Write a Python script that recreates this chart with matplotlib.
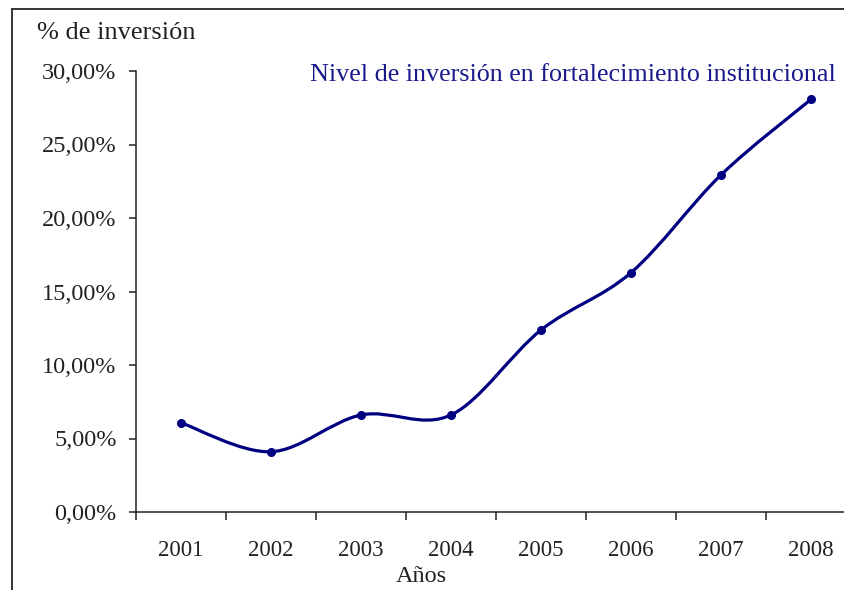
import matplotlib
matplotlib.use("Agg")
import matplotlib.pyplot as plt
from matplotlib.path import Path
from matplotlib.patches import PathPatch, Rectangle
import numpy as np

# investment share per year (%)
years = ['2001', '2002', '2003', '2004', '2005', '2006', '2007', '2008']
inversion = [6.07, 4.10, 6.60, 6.60, 12.38, 16.28, 22.93, 28.07]
y_ticks = [0, 5, 10, 15, 20, 25, 30]

serif = 'Liberation Serif'
navy = '#000080'
ink = '#222222'

W, H = 845, 590
fig = plt.figure(figsize=(W / 100, H / 100), dpi=100)
fig.patch.set_facecolor('white')

# outer frame (only top and left visible)
fig.patches.append(Rectangle((12 / W, -0.1), 1.2, (H - 9) / H + 0.1,
                             transform=fig.transFigure, fill=False,
                             edgecolor='#333333', lw=1.4))

# axes in pixel units
left, right, bottom, top = 136, 856, 512, 71
ax = fig.add_axes([left / W, (H - bottom) / H, (right - left) / W, (bottom - top) / H])
ax.set_facecolor('none')

x = np.arange(len(years))
ax.set_xlim(-0.5, len(years) - 0.5)
ax.set_ylim(0, 30)

# smoothed line through the points (cardinal/Catmull-Rom bezier)
pts = np.column_stack([x, inversion]).astype(float)
verts = [pts[0]]
codes = [Path.MOVETO]
n = len(pts)
for i in range(n - 1):
    p0 = pts[i - 1] if i > 0 else pts[i]
    p1 = pts[i]
    p2 = pts[i + 1]
    p3 = pts[i + 2] if i + 2 < n else pts[i + 1]
    c1 = p1 + (p2 - p0) / 6.0
    c2 = p2 - (p3 - p1) / 6.0
    verts += [c1, c2, p2]
    codes += [Path.CURVE4] * 3
ax.add_patch(PathPatch(Path(verts, codes), fill=False, edgecolor=navy, lw=2.3,
                       capstyle='round', joinstyle='round'))
ax.plot(x, inversion, linestyle='none', marker='o', markersize=5.5, color=navy)

for side in ['top', 'right']:
    ax.spines[side].set_visible(False)
for side in ['left', 'bottom']:
    ax.spines[side].set_color(ink)
    ax.spines[side].set_linewidth(1.1)

ax.set_yticks(y_ticks)
ax.set_yticklabels([f'{v:.2f}%'.replace('.', ',') for v in y_ticks],
                   fontfamily=serif, fontsize=17.5, color=ink)
ax.tick_params(axis='y', direction='out', length=5, width=1.1, pad=9, color=ink)

ax.set_xticks(x)
ax.set_xticklabels(years, fontfamily=serif, fontsize=16.5, color=ink)
ax.set_xticks(np.arange(len(years) + 1) - 0.5, minor=True)
ax.tick_params(axis='x', which='major', length=0, pad=20)
ax.tick_params(axis='x', which='minor', direction='out', length=6, width=1.1, color=ink)

fig.text(37 / W, 1 - 33 / H, '% de inversión', fontfamily=serif, fontsize=19,
         color=ink, ha='left', va='center')
fig.text(421 / W, 1 - 577 / H, 'Años', fontfamily=serif, fontsize=17.5,
         color=ink, ha='center', va='center')
fig.text(836 / W, 1 - 75 / H, 'Nivel de inversión en fortalecimiento institucional',
         fontfamily=serif, fontsize=18.8, color='#1a1a8c', ha='right', va='center')

fig.savefig('out.png', dpi=100)
